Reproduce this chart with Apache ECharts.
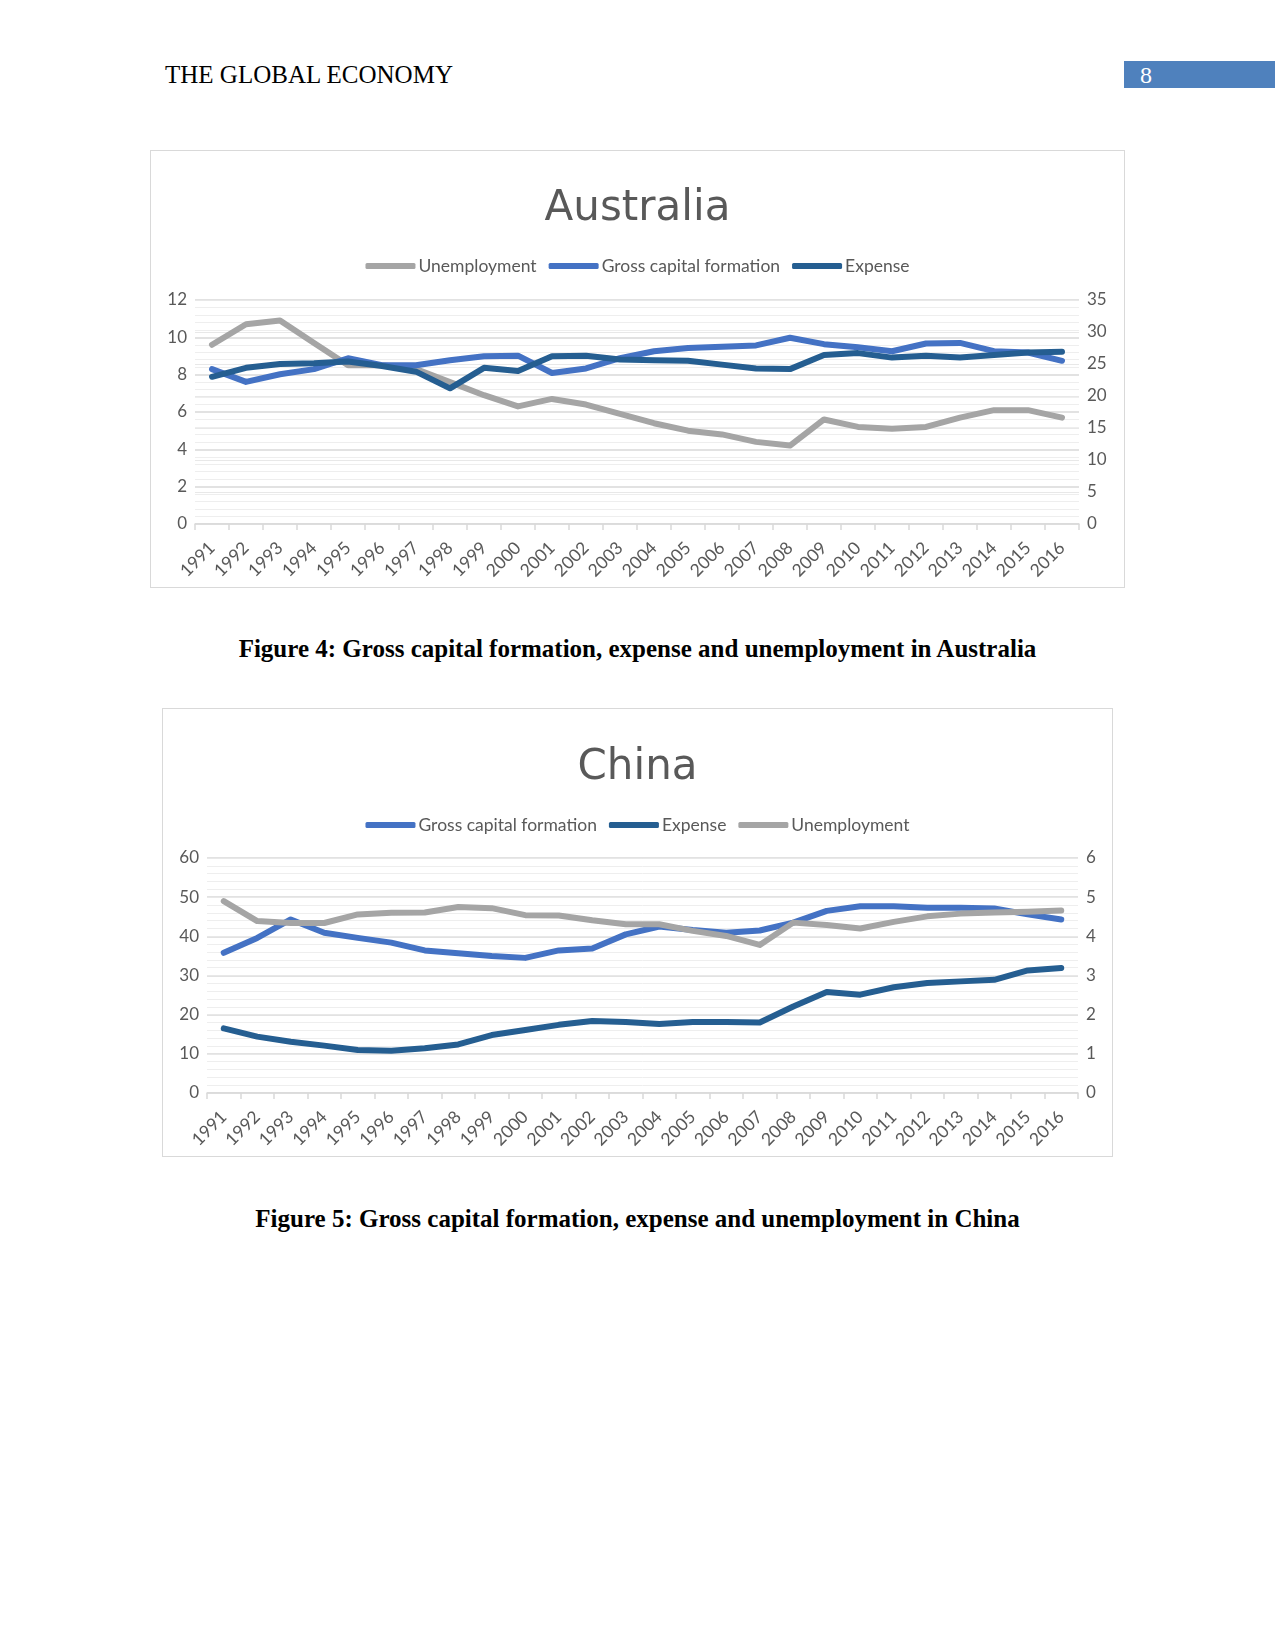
<!DOCTYPE html>
<html>
<head>
<meta charset="utf-8">
<script src="https://cdn.jsdelivr.net/npm/echarts@6/dist/echarts.min.js"></script>
<style>
  html, body { margin: 0; padding: 0; background: #fff; }
  body { width: 1275px; height: 1651px; position: relative; overflow: hidden; }
  .hdr { position: absolute; left: 165px; top: 60px; font-family: "Liberation Serif", "Times New Roman", serif; font-size: 25px; line-height: 30px; color: #000; white-space: nowrap; }
  .pg { position: absolute; left: 1124px; top: 61px; width: 151px; height: 27px; background: #4f81bd; }
  .pgn { position: absolute; left: 1140px; top: 60px; font-family: "Liberation Serif", serif; font-size: 24px; line-height: 30px; color: #fff; }
  .box { position: absolute; border: 1px solid #d9d9d9; box-sizing: border-box; }
  .cap { position: absolute; left: 0; width: 1275px; text-align: center; font-family: "Liberation Serif", "Times New Roman", serif; font-weight: bold; font-size: 25px; line-height: 30px; color: #000; }
</style>
</head>
<body>
<div class="hdr">THE GLOBAL ECONOMY</div>
<div class="pg"></div>
<div class="pgn">8</div>
<div id="aus" class="box" style="left:150px;top:150px;width:975px;height:438px;"></div>
<div class="cap" style="top:634px;">Figure 4: Gross capital formation, expense and unemployment in Australia</div>
<div id="chn" class="box" style="left:162px;top:708px;width:951px;height:449px;"></div>
<div class="cap" style="top:1204px;">Figure 5: Gross capital formation, expense and unemployment in China</div>
<script>
// ---------- Data ----------
const years = ["1991","1992","1993","1994","1995","1996","1997","1998","1999","2000","2001","2002","2003","2004","2005","2006","2007","2008","2009","2010","2011","2012","2013","2014","2015","2016"];

// Australia
const ausUnemployment = [9.6,10.7,10.9,9.7,8.5,8.5,8.3,7.6,6.9,6.3,6.7,6.4,5.9,5.4,5.0,4.8,4.4,4.2,5.6,5.2,5.1,5.2,5.7,6.1,6.1,5.7];
const ausGCF = [24.2,22.2,23.4,24.2,25.9,24.8,24.8,25.6,26.2,26.3,23.6,24.3,25.9,27.0,27.5,27.7,27.9,29.1,28.1,27.6,27.0,28.2,28.3,27.0,26.8,25.5];
const ausExpense = [23.0,24.4,25.0,25.1,25.4,24.7,23.8,21.2,24.4,23.9,26.2,26.3,25.7,25.6,25.5,24.9,24.3,24.2,26.4,26.7,26.0,26.3,26.0,26.4,26.8,26.9];

// China
const chnGCF = [35.8,39.6,44.3,40.9,39.6,38.4,36.4,35.7,35.0,34.5,36.4,36.9,40.5,42.5,41.6,40.9,41.5,43.5,46.5,47.7,47.7,47.3,47.3,47.1,45.6,44.3];
const chnExpense = [16.5,14.4,13.1,12.1,11.0,10.8,11.4,12.4,14.8,16.1,17.4,18.4,18.1,17.6,18.1,18.1,18.0,22.1,25.8,25.1,27.0,28.1,28.5,28.9,31.3,31.9];
const chnUnemployment = [4.9,4.39,4.34,4.34,4.56,4.6,4.61,4.75,4.72,4.54,4.53,4.41,4.31,4.31,4.14,4.01,3.78,4.35,4.29,4.2,4.37,4.51,4.58,4.61,4.63,4.66];

// ---------- Styles ----------
const C_GRAY = "#a5a5a5", C_BLUE = "#4472c4", C_DARK = "#255e91";
const LBL = "#595959";
const AX_FONT = "Lato, 'Open Sans', sans-serif";

function yAxis(min, max, interval, main) {
  return {
    type: "value", min: min, max: max, interval: interval,
    axisLine: { show: false }, axisTick: { show: false },
    axisLabel: { color: LBL, fontSize: 17, fontFamily: AX_FONT, margin: 8 },
    splitLine: { show: true, lineStyle: { color: main ? "#d9d9d9" : "#e8e8e8", width: main ? 1.5 : 1 } },
    minorTick: { show: main, splitNumber: 5, length: 0 },
    minorSplitLine: { show: main, lineStyle: { color: "#eeeeee", width: 1 } }
  };
}

function lineSeries(name, data, color, yIdx) {
  return {
    name: name, type: "line", data: data, yAxisIndex: yIdx,
    symbol: "none", smooth: false,
    lineStyle: { color: color, width: 6, cap: "round", join: "round" },
    itemStyle: { color: color }
  };
}

function makeOption(title, legendOrder, series, yAxes, grid, titleTop, legendTop) {
  return {
    animation: false,
    backgroundColor: "#fff",
    title: {
      text: title, left: "center", top: titleTop,
      textStyle: { fontFamily: "'DejaVu Sans', sans-serif", fontSize: 42, fontWeight: "normal", color: LBL, lineHeight: 50 }
    },
    legend: {
      data: legendOrder, top: legendTop, left: "center",
      icon: "roundRect", itemWidth: 50, itemHeight: 6, itemGap: 12,
      textStyle: { color: LBL, fontSize: 17.5, fontFamily: AX_FONT, padding: [0, 0, 0, -2] }
    },
    grid: grid,
    xAxis: {
      type: "category", data: years, boundaryGap: true,
      axisLine: { show: true, lineStyle: { color: "#d9d9d9", width: 1.5 } },
      axisTick: { show: true, length: 6, lineStyle: { color: "#d9d9d9", width: 1.5 } },
      axisLabel: { color: LBL, fontSize: 17.5, fontFamily: AX_FONT, rotate: 45, interval: 0, margin: 21 }
    },
    yAxis: yAxes,
    series: series
  };
}

const aus = echarts.init(document.getElementById("aus"), null, { renderer: "canvas" });
aus.setOption(makeOption(
  "Australia",
  ["Unemployment", "Gross capital formation", "Expense"],
  [
    lineSeries("Unemployment", ausUnemployment, C_GRAY, 0),
    lineSeries("Gross capital formation", ausGCF, C_BLUE, 1),
    lineSeries("Expense", ausExpense, C_DARK, 1)
  ],
  [yAxis(0, 12, 2, true), yAxis(0, 35, 5, false)],
  { left: 44, right: 45, top: 149, bottom: 63, containLabel: false },
  28, 101
));

const chn = echarts.init(document.getElementById("chn"), null, { renderer: "canvas" });
chn.setOption(makeOption(
  "China",
  ["Gross capital formation", "Expense", "Unemployment"],
  [
    lineSeries("Gross capital formation", chnGCF, C_BLUE, 0),
    lineSeries("Expense", chnExpense, C_DARK, 0),
    lineSeries("Unemployment", chnUnemployment, C_GRAY, 1)
  ],
  [yAxis(0, 60, 10, true), yAxis(0, 6, 1, false)],
  { left: 44, right: 34, top: 149, bottom: 63, containLabel: false },
  29, 102
));
</script>
</body>
</html>
